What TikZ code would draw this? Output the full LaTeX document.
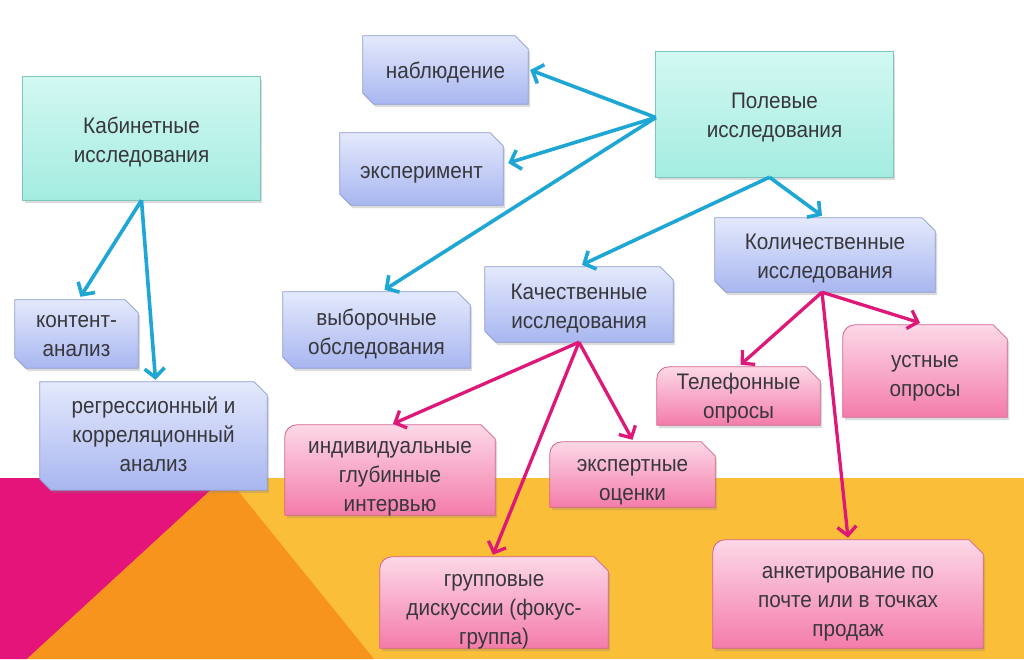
\documentclass[tikz,border=0pt]{standalone}
\usepackage{fontspec}
\setmainfont{Liberation Sans}
\newfontfamily\boxfontfam[FakeStretch=0.92]{Liberation Sans}
\usetikzlibrary{arrows.meta,calc,shadows}
\pgfdeclarelayer{back}
\pgfdeclarelayer{boxes}
\pgfsetlayers{back,boxes,main}
\definecolor{yel}{RGB}{251,190,56}
\definecolor{org}{RGB}{247,148,30}
\definecolor{mag}{RGB}{228,20,122}
\definecolor{bluetop}{RGB}{228,233,252}
\definecolor{bluebot}{RGB}{168,182,240}
\definecolor{blueedge}{RGB}{140,155,210}
\definecolor{pinktop}{RGB}{252,216,231}
\definecolor{pinkbot}{RGB}{244,124,170}
\definecolor{pinkedge}{RGB}{212,98,142}
\definecolor{tealtop}{RGB}{210,248,242}
\definecolor{tealbot}{RGB}{164,236,224}
\definecolor{tealedge}{RGB}{125,198,188}
\definecolor{barr}{RGB}{30,166,212}
\definecolor{parr}{RGB}{222,24,120}
\definecolor{txtc}{RGB}{55,55,60}
\newcommand\boxfont{\boxfontfam\fontsize{22.5}{29}\selectfont}
% text block, lowered by #1 pt without changing the node's size
\newcommand\tx[2][4]{\raisebox{-#1pt}[\height][\depth]{\begin{tabular}{@{}c@{}}#2\end{tabular}}}
\tikzset{
  box/.style={font=\boxfont, text=txtc, inner sep=0pt},
  shad/.style={drop shadow={opacity=0.28, shadow xshift=2pt, shadow yshift=-3pt}},
  bluefill/.style={top color=bluetop, bottom color=bluebot, draw=blueedge, line width=0.8pt, shad},
  pinkfill/.style={top color=pinktop, bottom color=pinkbot, draw=pinkedge, line width=0.8pt, shad},
  tealfill/.style={top color=tealtop, bottom color=tealbot, draw=tealedge, line width=0.8pt, shad},
  barrow/.style={draw=barr, line width=3.6pt, -{Straight Barb[length=9pt,width=20pt]}},
  parrow/.style={draw=parr, line width=3.3pt, -{Straight Barb[length=9pt,width=19pt]}},
}
\newcommand\bluesnip[1]{\path[bluefill] (#1.north west) -- ($(#1.north east)+(-13,0)$) -- ($(#1.north east)+(0,13)$) -- (#1.south east) -- ($(#1.south west)+(11,0)$) -- ($(#1.south west)+(0,-11)$) -- cycle;}
\newcommand\pinksnip[1]{\path[pinkfill] (#1.south west) -- ($(#1.north west)+(0,12)$) arc[start angle=180,end angle=270,radius=12] -- ($(#1.north east)+(-14,0)$) -- ($(#1.north east)+(0,14)$) -- (#1.south east) -- cycle;}
\newcommand\tealrect[1]{\path[tealfill] (#1.north west) rectangle (#1.south east);}
\begin{document}
\begin{tikzpicture}[x=1pt,y=-1pt]
\useasboundingbox (0,0) rectangle (1024,659);
\begin{pgfonlayer}{back}
\fill[white] (0,0) rectangle (1024,659);
\fill[yel] (0,478) rectangle (1024,659);
\fill[mag] (0,478) -- (224,478) -- (27,659) -- (0,659) -- cycle;
\fill[org] (226,476) -- (374,659) -- (27,659) -- cycle;
\end{pgfonlayer}
% nodes
\node[box, minimum width=237pt, minimum height=123pt] (kab) at (141.5,138.5) {\tx[4]{Кабинетные\\исследования}};
\node[box, minimum width=237pt, minimum height=125pt] (pol) at (774.5,114.5) {\tx[3]{Полевые\\исследования}};
\node[box, minimum width=165pt, minimum height=68pt] (nab) at (445.5,70) {\tx[3]{наблюдение}};
\node[box, minimum width=163pt, minimum height=72pt] (eks) at (421.5,169) {\tx[4]{эксперимент}};
\node[box, minimum width=187pt, minimum height=76pt] (vyb) at (376.5,330) {\tx[4]{выборочные\\обследования}};
\node[box, minimum width=188pt, minimum height=75pt] (kach) at (579,304.5) {\tx[4]{Качественные\\исследования}};
\node[box, minimum width=220pt, minimum height=74pt] (kol) at (825,255) {\tx[3]{Количественные\\исследования}};
\node[box, minimum width=123pt, minimum height=68pt] (kon) at (76.5,334) {\tx[2]{контент-\\анализ}};
\node[box, minimum width=227pt, minimum height=108pt] (reg) at (153.5,436) {\tx[1]{регрессионный и\\корреляционный\\анализ}};
\node[box, minimum width=210pt, minimum height=90pt] (ind) at (390,470) {\tx[7]{индивидуальные\\глубинные\\интервью}};
\node[box, minimum width=165pt, minimum height=65pt] (eksp) at (632.5,474.5) {\tx[6]{экспертные\\оценки}};
\node[box, minimum width=163pt, minimum height=58pt] (tel) at (738.5,396) {\tx[2]{Телефонные\\опросы}};
\node[box, minimum width=164pt, minimum height=92pt] (ust) at (925,371) {\tx[5]{устные\\опросы}};
\node[box, minimum width=228pt, minimum height=91pt] (gr) at (494,602.5) {\tx[7]{групповые\\дискуссии (фокус-\\группа)}};
\node[box, minimum width=270pt, minimum height=108pt] (ank) at (848,594) {\tx[8]{анкетирование по\\почте или в точках\\продаж}};
\begin{pgfonlayer}{boxes}
\tealrect{kab}\tealrect{pol}
\bluesnip{nab}\bluesnip{eks}\bluesnip{vyb}\bluesnip{kach}\bluesnip{kol}\bluesnip{kon}\bluesnip{reg}
\pinksnip{ind}\pinksnip{eksp}\pinksnip{tel}\pinksnip{ust}\pinksnip{gr}\pinksnip{ank}
\end{pgfonlayer}
% connectors
\coordinate (polw) at ($(pol.west)+(0,3)$);
\coordinate (pols) at ($(pol.south)+(-5,0)$);
\draw[barrow] (polw) -- ($(nab.east)+(2,0)$);
\draw[barrow] (polw) -- ($(eks.east)+(5,-6)$);
\draw[barrow] (polw) -- ($(vyb.north)+(8,-2)$);
\draw[barrow] (pols) -- ($(kach.north)+(3,-2)$);
\draw[barrow] (pols) -- ($(kol.north)+(-3,-2)$);
\draw[barrow] (kab.south) -- ($(kon.north)+(4,-3)$);
\draw[barrow] (kab.south) -- ($(reg.north)+(2,-2)$);
\draw[parrow] (kach.south) -- ($(ind.north)+(3,-1)$);
\draw[parrow] (kach.south) -- ($(gr.north)+(-1,-2)$);
\draw[parrow] (kach.south) -- ($(eksp.north)+(0,-2)$);
\draw[parrow] ($(kol.south)+(-3,0)$) -- ($(tel.north)+(2,-2)$);
\draw[parrow] ($(kol.south)+(-3,0)$) -- ($(ust.north)+(-5,-2)$);
\draw[parrow] ($(kol.south)+(-3,0)$) -- ($(ank.north)+(0,-2)$);
\end{tikzpicture}
\end{document}
